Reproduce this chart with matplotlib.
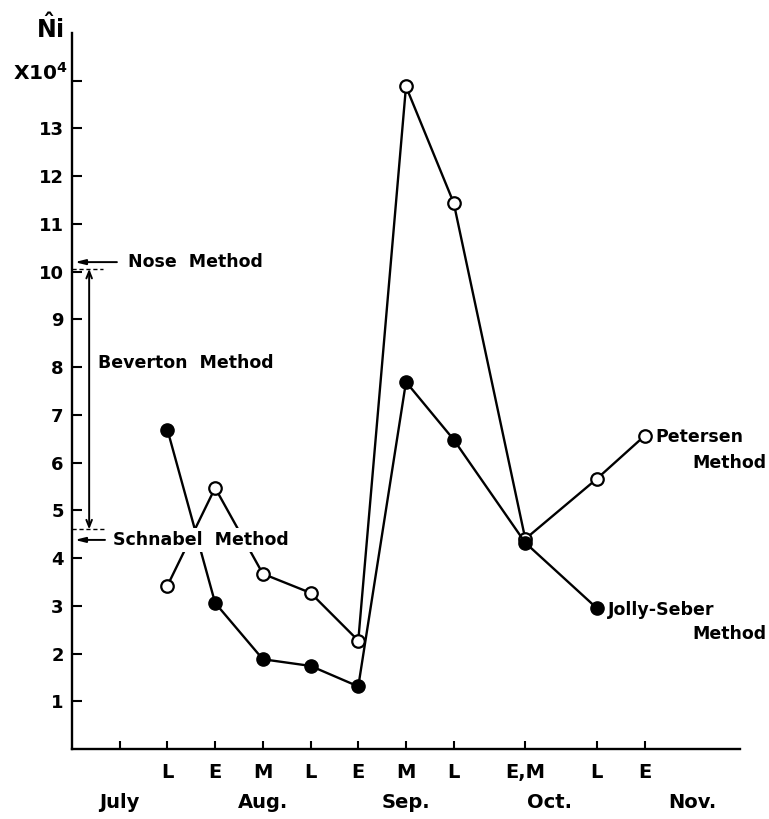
import matplotlib
matplotlib.use("Agg")
import matplotlib.pyplot as plt

# sampling periods (half-month steps along the x axis)
tick_pos = [1, 2, 3, 4, 5, 6, 7, 8, 9.5, 11, 12]
tick_labels = ["", "L", "E", "M", "L", "E", "M", "L", "E,M", "L", "E"]
month_pos = [1, 4, 7, 10, 13]
month_labels = ["July", "Aug.", "Sep.", "Oct.", "Nov."]

# population estimates, x 10^4
petersen_x = [2, 3, 4, 5, 6, 7, 8, 9.5, 11, 12]
petersen_y = [3.42, 5.47, 3.67, 3.27, 2.27, 13.88, 11.44, 4.40, 5.66, 6.56]
jolly_x = [2, 3, 4, 5, 6, 7, 8, 9.5, 11]
jolly_y = [6.69, 3.06, 1.88, 1.74, 1.31, 7.69, 6.48, 4.32, 2.95]

# single-value estimates marked on the y axis
nose_est = 10.2
schnabel_est = 4.38
beverton_range = (10.06, 4.6)

plt.rcParams["font.family"] = "DejaVu Sans"
plt.rcParams["font.weight"] = "bold"
plt.rcParams["mathtext.default"] = "bf"

fig = plt.figure(figsize=(7.69, 8.19), dpi=100)
ax = fig.add_axes([0.0936, 0.0855, 0.8687, 0.8742])

ax.plot(petersen_x, petersen_y, color="black", lw=1.7, marker="o", ms=9,
        mfc="white", mec="black", mew=1.6, zorder=3)
ax.plot(jolly_x, jolly_y, color="black", lw=1.7, marker="o", ms=9.5,
        mfc="black", mec="black", zorder=4)

ax.set_xlim(0, 14)
ax.set_ylim(0, 15)
for side in ("top", "right"):
    ax.spines[side].set_visible(False)
for side in ("left", "bottom"):
    ax.spines[side].set_linewidth(1.7)

ax.set_yticks(range(1, 15))
ax.set_yticklabels([str(i) for i in range(1, 14)] + [""])
ax.tick_params(axis="y", direction="in", length=7, width=1.5, pad=6, labelsize=13)
ax.set_xticks(tick_pos)
ax.set_xticklabels(tick_labels)
ax.tick_params(axis="x", direction="in", length=6, width=1.5, pad=10, labelsize=14)

for x, lab in zip(month_pos, month_labels):
    ax.text(x, -0.075, lab, transform=ax.get_xaxis_transform(), ha="center",
            va="center", fontsize=14)

# axis header
fig.text(0.065, 0.965, r"$\hat{\mathbf{N}}\mathbf{i}$", ha="center", va="center", fontsize=17)
ax.text(-0.08, 14.17, r"X10$^4$", ha="right", va="center", fontsize=14.5, clip_on=False)

# Nose method arrow
ax.annotate("", xy=(0, nose_est), xytext=(1.0, nose_est),
            arrowprops=dict(arrowstyle="-|>,head_length=0.6,head_width=0.15",
                            color="black", lw=1.4))
ax.text(1.17, nose_est, "Nose  Method", va="center", fontsize=12.5)

# Beverton range
ax.plot([0, 0.65], [beverton_range[0]] * 2, color="black", lw=1, ls=(0, (3, 2)))
ax.plot([0, 0.7], [beverton_range[1]] * 2, color="black", lw=1, ls=(0, (3, 2)))
ax.annotate("", xy=(0.36, beverton_range[0]), xytext=(0.36, beverton_range[1]),
            arrowprops=dict(arrowstyle="<->,head_length=0.5,head_width=0.2",
                            color="black", lw=1.4, shrinkA=0, shrinkB=0))
ax.text(0.55, 8.09, "Beverton  Method", va="center", fontsize=12.5)

# Schnabel method arrow
ax.annotate("", xy=(0, schnabel_est), xytext=(0.75, schnabel_est),
            arrowprops=dict(arrowstyle="-|>,head_length=0.6,head_width=0.15",
                            color="black", lw=1.4))
ax.text(0.86, schnabel_est, "Schnabel  Method", va="center", fontsize=12.5, zorder=6,
        bbox=dict(facecolor="white", edgecolor="none", pad=2))

# series labels
ax.text(12.22, 6.54, "Petersen", va="center", fontsize=12.5)
ax.text(13.0, 6.0, "Method", va="center", fontsize=12.5, clip_on=False)
ax.text(11.24, 2.91, "Jolly-Seber", va="center", fontsize=12.5)
ax.text(13.0, 2.41, "Method", va="center", fontsize=12.5, clip_on=False)

fig.savefig("out.png", dpi=100)
